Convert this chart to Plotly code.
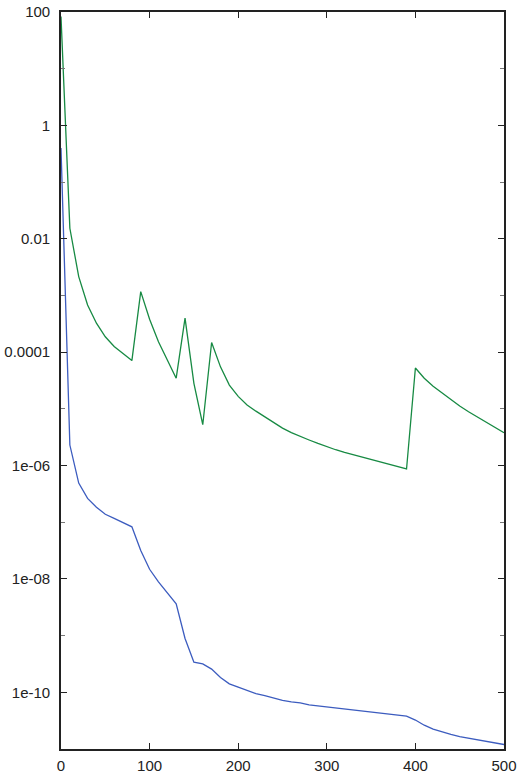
import plotly.graph_objects as go

x_green = [0, 10, 20, 30, 40, 50, 60, 70, 80, 90, 100, 110, 120, 130, 140, 150, 160, 170, 180, 190,
           200, 210, 220, 230, 240, 250, 260, 270, 280, 290, 300, 310, 320, 330, 340, 350, 360, 370,
           380, 390, 400, 410, 420, 430, 440, 450, 460, 470, 480, 490, 500]
y_green = [83, 1.53e-2, 2.15e-3, 6.8e-4, 3.24e-4, 1.87e-4, 1.26e-4, 9.3e-5, 7.1e-5, 1.17e-3,
           3.8e-4, 1.53e-4, 7.1e-5, 3.47e-5, 3.98e-4, 2.82e-5, 5.25e-6, 1.48e-4, 5.5e-5, 2.63e-5,
           1.66e-5, 1.17e-5, 9.1e-6, 7.2e-6, 5.75e-6, 4.57e-6, 3.8e-6, 3.24e-6, 2.82e-6, 2.45e-6,
           2.14e-6, 1.9e-6, 1.7e-6, 1.55e-6, 1.41e-6, 1.29e-6, 1.17e-6, 1.07e-6, 9.8e-7, 8.7e-7,
           5.25e-5, 3.47e-5, 2.51e-5, 1.9e-5, 1.45e-5, 1.12e-5, 8.9e-6, 7.2e-6, 5.9e-6, 4.8e-6, 3.8e-6]

x_blue = x_green
y_blue = [0.4, 2.3e-6, 4.9e-7, 2.63e-7, 1.84e-7, 1.38e-7, 1.17e-7, 9.8e-8, 8.3e-8, 3.16e-8,
          1.48e-8, 8.9e-9, 5.6e-9, 3.63e-9, 8.9e-10, 3.4e-10, 3.16e-10, 2.57e-10, 1.82e-10, 1.41e-10,
          1.23e-10, 1.07e-10, 9.5e-11, 8.7e-11, 7.9e-11, 7.2e-11, 6.8e-11, 6.5e-11, 6.0e-11, 5.75e-11,
          5.5e-11, 5.25e-11, 5.0e-11, 4.8e-11, 4.6e-11, 4.4e-11, 4.27e-11, 4.07e-11, 3.9e-11, 3.8e-11,
          3.24e-11, 2.63e-11, 2.24e-11, 2.0e-11, 1.82e-11, 1.66e-11, 1.55e-11, 1.45e-11, 1.35e-11,
          1.26e-11, 1.2e-11]

x_ticks = [0, 100, 200, 300, 400, 500]
y_major = [1e2, 1, 1e-2, 1e-4, 1e-6, 1e-8, 1e-10]
y_major_text = ["100", "1", "0.01", "0.0001", "1e-06", "1e-08", "1e-10"]
y_minor = [1e1, 1e-1, 1e-3, 1e-5, 1e-7, 1e-9, 1e-11]

fig = go.Figure()
fig.add_trace(go.Scatter(x=x_green, y=y_green, mode="lines",
                         line=dict(color="#178a43", width=1.3), showlegend=False))
fig.add_trace(go.Scatter(x=x_blue, y=y_blue, mode="lines",
                         line=dict(color="#3c5cbf", width=1.3), showlegend=False))

axis_common = dict(showline=True, linecolor="#222", linewidth=1.6, mirror="ticks",
                   ticks="inside", tickcolor="#222", tickwidth=1.3, showgrid=False,
                   zeroline=False, automargin=False,
                   tickfont=dict(family="Liberation Sans, Arial, sans-serif", size=15, color="#222"))

fig.update_layout(
    width=518, height=774,
    margin=dict(l=61, r=14, t=12, b=25),
    paper_bgcolor="white", plot_bgcolor="white",
    xaxis=dict(range=[0, 500], tickvals=x_ticks, ticklen=6, ticklabelstandoff=2, **axis_common),
    yaxis=dict(type="log", range=[-11, 2], tickvals=y_major, ticktext=y_major_text,
               ticklen=6, ticklabelstandoff=6,
               minor=dict(tickvals=y_minor, ticks="inside", ticklen=4, tickcolor="#777",
                          tickwidth=1.2, showgrid=False),
               **axis_common),
)

fig.write_html("out.html", config={"displayModeBar": False},
               post_script="document.body.style.margin='0';document.body.style.overflow='hidden';")
